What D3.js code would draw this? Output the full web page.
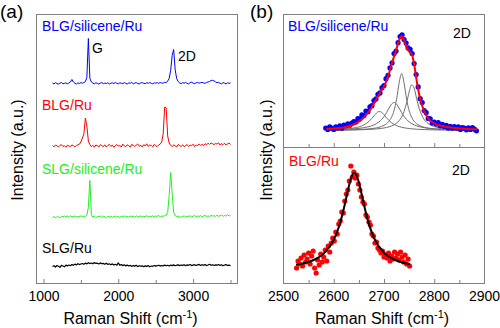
<!DOCTYPE html>
<html><head><meta charset="utf-8">
<script src="https://cdn.jsdelivr.net/npm/d3@7"></script>
<style>
body{margin:0;background:#fff}
svg{display:block}
text{font-family:Arial,"Liberation Sans",sans-serif}
</style>
</head><body>
<svg id="c" width="500" height="328"></svg>
<script>
// ---------- Panel (a) data: Raman spectra (intensity above each trace's baseline, a.u.) ----------
const specX = d3.range(1120, 3501, 20);
const specBLGsiliceneRu = [0.5,-0.5,0.8,0,-0.6,0.4,1,-0.3,0.2,0.6,
-0.4,0.5,1.5,4,1.5,0.2,-0.5,0.6,0.1,0.8,
0.3,1,2,6,45,5,1.5,0.4,-0.3,0.7,
0.2,-0.6,0.5,0.9,-0.2,0.4,0,0.8,-0.5,0.3,
0.6,-0.1,1,0.2,-0.4,0.7,0.3,-0.2,0.9,0.1,
-0.5,0.6,0.2,1.1,-0.3,0.4,0.8,0,-0.4,0.5,
0.9,0.1,-0.2,0.7,0.3,1,0.2,-0.3,0.6,0.4,
0.8,0.2,1,0.5,0.3,1.2,0.8,2.5,5,13,
28,34,14,5,2,0.6,-0.2,0.8,0.3,1,
0.2,-0.4,0.9,1.3,0.4,-0.2,0.7,1.1,0.3,0.8,
1.2,0.5,0.2,1,1.5,2,3,3.2,2.6,1.6,
0.8,1.1,0.2,-0.3,0.9,0.4,-0.5,0.7,0.2,0.5];
const specBLGRu = [0.5,-0.8,1,0.2,-1,0.6,1.3,-0.5,0.3,-1.2,
0.8,0.1,-0.7,1,0.4,-0.9,0.6,1.1,1.8,4,
8,12,28,20,5,1.5,-0.8,0.7,-1.2,1,
0.2,-1,1.4,0.3,-0.6,1.2,-1.1,0.5,1.6,-0.4,
0.9,-1.3,0.4,1.5,-0.2,0.8,-1,1.9,0.1,-0.7,
1.2,0.3,-1.1,1.7,0.6,-0.5,1,2,-0.3,0.8,
-1,1.3,0.2,2.2,-0.4,1,0.5,-0.9,1.6,0.3,
-0.6,1.1,1.8,4,12,39,38,10,3,0.8,
-0.7,1.2,0.1,-1,1.5,0.4,-0.3,1.1,-0.8,0.6,
1.4,-0.5,0.9,0.2,1.8,-0.6,1,0.3,2,0.7,
1.5,0.6,2.3,1.2,2.8,1.6,3,2.2,1.4,2.6,
1.9,3.2,1,2.4,1.3,2.8,0.9,2.1,3,1.5];
const specSLGsiliceneRu = [0.3,0.8,-0.5,1,0.4,-0.3,1.2,0.6,1.5,0.9,
1.3,0.2,1.7,0.8,1,1.5,0.4,1.2,0.7,1.6,
0.9,1.3,1,2.5,10,37,3,0.5,1.4,-0.2,
1.1,0.6,1.5,0.3,1.2,0.8,-0.1,1,0.5,1.3,
0.2,0.9,1.4,0.4,1,0.1,1.2,0.7,1.6,0.5,
1.1,0.3,1.5,0.8,1.3,0.2,1.7,0.6,1.1,1.4,
0.5,1.2,0.9,1.8,0.6,1.3,1,1.6,0.8,1.5,
1.1,2,0.7,1.4,1.2,1.8,2.5,5,22,45,
24,5,2,0.8,1.6,-0.4,1.2,0.6,1.8,0.2,
1.4,0.9,1.7,0.5,1.3,2,0.7,1.5,1,1.9,
0.6,1.4,2.1,1,1.6,0.8,2.2,1.3,1.9,0.9,
2.3,1.2,1.7,2.6,1.1,2,1.4,2.8,1.5,2.2];
const specSLGRu = [0,0.8,-0.5,1,0.3,-0.8,1.2,0.5,-0.3,1.4,
0.6,1.5,0.8,1.9,1.2,2.4,1.6,2.8,1.9,2.5,
3,2.2,3.4,2.6,3.8,2.9,3.5,2.7,4,3.1,
3.3,2.5,3.6,2.8,3.1,2.2,3.4,2,2.7,1.8,
2.6,1.5,2.2,1.3,3.6,1.2,1.9,0.9,1.7,0.6,
1.4,0.5,1.1,0.2,0.9,0.4,1.2,-0.1,0.8,0.3,
0.7,-0.2,0.6,0.1,0.9,-0.3,0.5,0.2,1,0.4,
0.8,1.3,0.4,1,0.6,1.4,0.7,1.2,0.5,1.5,
0.9,1.6,0.8,1.3,1.7,0.9,1.5,1.1,1.8,0.8,
1.6,1.2,2,0.9,1.4,1.8,1,1.6,2.1,1.1,
1.7,1.3,1.9,0.9,1.5,2.2,1.2,1.8,1,1.6,
1.3,2,1.1,1.7,0.8,1.5,1.9,1,1.4,0.9];
const specNames = ["BLG/silicene/Ru", "BLG/Ru", "SLG/silicene/Ru", "SLG/Ru"];
const specSeries = [specBLGsiliceneRu, specBLGRu, specSLGsiliceneRu, specSLGRu];
const specOffsets = [199.5, 137, 65.5, 16.5];
const specColors = ["#0000ff", "#ff0000", "#22ee22", "#000000"];
const ticksA = [1000, 2000, 3000];
const minorTicksA = [1500, 2500, 3500];

// ---------- Panel (b) top: BLG/silicene/Ru 2D band ----------
const topDotX = d3.range(2584, 2885, 4);
const topDotY = [2.5,1.1,3.7,2.4,1,3.7,2.4,4.6,2.3,5.5,
4.6,6.7,5.3,7.4,9,8.4,11.8,11.7,15.6,15,
19.4,18.8,23.6,24.8,30,31.6,36.2,37.6,42.8,45,
51.8,55.2,62.6,67.6,77,79.4,87.8,94,95.6,91,
87.4,82.6,81.2,77,67,56,43.6,31.8,28,20,
17.8,12.1,11.7,7.6,8.5,6.4,7.8,4.7,6.1,4,
5.2,2.4,4.1,2.3,4,2.4,3.7,1.1,2.9,2.3,
0.7,2.6,1,2.9,1.3,-0.3];
const compX = [2585,2600,2620,2640,2660,2670,2680,2685,2690,2695,2700,2705,2710,2715,2720,2725,2730,2735,2740,2745,2750,2755,2760,2765,2770,2780,2790,2800,2820,2840,2860,2885];
const comp1 = [0.65,0.88,1.40,2.53,5.59,9.05,14.59,17.43,18.95,18.27,15.80,12.75,9.99,7.79,6.12,4.88,3.96,3.25,2.71,2.29,1.96,1.69,1.47,1.29,1.14,0.91,0.75,0.62,0.45,0.34,0.26,0.20];
const comp2 = [0.60,0.76,1.08,1.65,2.80,3.86,5.60,6.89,8.62,10.93,14,17.92,22.4,26.35,28,26.35,22.4,17.92,14,10.93,8.62,6.89,5.60,4.62,3.86,2.80,2.11,1.65,1.08,0.76,0.56,0.41];
const comp3 = [0.30,0.38,0.52,0.75,1.20,1.59,2.19,2.63,3.21,4.01,5.13,6.75,9.25,13.24,19.93,31.21,47.24,57,47.24,31.21,19.93,13.24,9.25,6.75,5.13,3.21,2.19,1.59,0.94,0.62,0.44,0.30];
const comp4 = [0.29,0.34,0.45,0.61,0.89,1.11,1.41,1.61,1.85,2.15,2.53,3.01,3.65,4.50,5.67,7.34,9.77,13.45,19.13,27.64,38.41,45.75,42.29,31.85,22.17,11.06,6.27,3.96,1.96,1.16,0.76,0.50];
const topFit = [1.5,2,3,6,13,19,27,31.5,36,40,44,50,57,66,74,82,90,94.5,90,83,79,77,66,50,36,19,11,7,4,2.5,1.8,1.2];

// ---------- Panel (b) bottom: BLG/Ru 2D band ----------
const botDotX = d3.range(2526, 2752, 3);
const botDotY = [2,9,6,12,4,15,8,11,17,6,
14,19,2,-3,10,5,16,8,13,20,
9,24,18,27,32,29,38,36,46,49,
58,57,69,76,80,89,104,93,98,92,
95,86,80,73,68,66,55,53,48,45,
36,34,27,28,22,20,17,19,13,15,
12,17,9,14,11,18,12,16,10,18,
13,8,15,6,11,4];
const botFitX = [2525,2540,2560,2580,2600,2610,2620,2625,2630,2635,2640,2645,2650,2655,2660,2670,2680,2700,2720,2740,2752];
const botFitY = [5.16,6.69,10.02,16.38,30.1,42.7,61.3,72.4,83.6,92.6,96.9,95.0,87.6,77.0,65.6,45.9,32.2,17.3,10.5,6.95,5.61];
const ticksB = [2500, 2600, 2700, 2800, 2900];
const minorTicksB = [2550, 2650, 2750, 2850];

// ---------- drawing ----------
const svg = d3.select("#c");
const gray = "#808080";

// Panel (a)
const xA = d3.scaleLinear().domain([900, 3600]).range([36, 238]);
const yA = d3.scaleLinear().domain([0, 268]).range([283, 15]);

specSeries.forEach((s, k) => {
  const line = d3.line().x((d, i) => xA(specX[i])).y(d => yA(d + specOffsets[k]));
  svg.append("path").attr("d", line(s)).attr("fill", "none")
    .attr("stroke", specColors[k]).attr("stroke-width", k === 3 ? 1.2 : 1)
    .attr("stroke-linejoin", "round");
});

const axA = svg.append("g").attr("transform", "translate(0,283)")
  .call(d3.axisBottom(xA).tickValues(ticksA).tickSize(-4).tickPadding(8).tickFormat(d3.format("d")));
axA.select(".domain").remove();
axA.selectAll("line").attr("stroke", gray);
axA.selectAll("text").attr("font-size", 14).attr("fill", "#000").attr("font-family", "Arial, Liberation Sans, sans-serif");
const axAm = svg.append("g").attr("transform", "translate(0,283)")
  .call(d3.axisBottom(xA).tickValues(minorTicksA).tickSize(-3).tickFormat(""));
axAm.select(".domain").remove();
axAm.selectAll("line").attr("stroke", gray);

svg.append("rect").attr("x", 36.5).attr("y", 14.5).attr("width", 201).attr("height", 269)
  .attr("fill", "none").attr("stroke", gray).attr("stroke-width", 1);

const labA = [
  {t: specNames[0], x: 42, y: 31, c: specColors[0]},
  {t: specNames[1], x: 42, y: 110, c: specColors[1]},
  {t: specNames[2], x: 42, y: 174, c: specColors[2]},
  {t: specNames[3], x: 42, y: 253, c: specColors[3]},
  {t: "G", x: 92, y: 53, c: "#000"},
  {t: "2D", x: 178, y: 61, c: "#000"}
];
labA.forEach(l => svg.append("text").attr("x", l.x).attr("y", l.y).attr("fill", l.c)
  .attr("font-size", 14).text(l.t));

// Panel (b)
const xB = d3.scaleLinear().domain([2500, 2900]).range([283.5, 484.5]);
const yTop = d3.scaleLinear().domain([-16.5, 116.5]).range([147, 14]);
const yBot = d3.scaleLinear().domain([-13, 123]).range([283, 147]);

const compLine = d3.line().x((d, i) => xB(compX[i])).y(d => yTop(d)).curve(d3.curveMonotoneX);
[comp1, comp2, comp3, comp4].forEach(c => {
  svg.append("path").attr("d", compLine(c)).attr("fill", "none")
    .attr("stroke", "#6e6e6e").attr("stroke-width", 1);
});
svg.append("g").selectAll("circle").data(topDotY).join("circle")
  .attr("cx", (d, i) => xB(topDotX[i])).attr("cy", d => yTop(d)).attr("r", 2.6)
  .attr("fill", "#0000ff");
svg.append("path").attr("d", compLine(topFit)).attr("fill", "none")
  .attr("stroke", "#ff0000").attr("stroke-width", 2);

svg.append("g").selectAll("circle").data(botDotY).join("circle")
  .attr("cx", (d, i) => xB(botDotX[i])).attr("cy", d => yBot(d)).attr("r", 2.6)
  .attr("fill", "#ff0000");
const botLine = d3.line().x((d, i) => xB(botFitX[i])).y(d => yBot(d)).curve(d3.curveMonotoneX);
svg.append("path").attr("d", botLine(botFitY)).attr("fill", "none")
  .attr("stroke", "#000").attr("stroke-width", 2);

// axes of (b): ticks on the divider and on the bottom edge; labels only at bottom
[147, 283].forEach(yy => {
  const g = svg.append("g").attr("transform", `translate(0,${yy})`)
    .call(d3.axisBottom(xB).tickValues(ticksB.slice(1, -1)).tickSize(-4).tickFormat(""));
  g.select(".domain").remove();
  g.selectAll("line").attr("stroke", gray);
  const gm = svg.append("g").attr("transform", `translate(0,${yy})`)
    .call(d3.axisBottom(xB).tickValues(minorTicksB).tickSize(-3).tickFormat(""));
  gm.select(".domain").remove();
  gm.selectAll("line").attr("stroke", gray);
});
ticksB.forEach(t => svg.append("text").attr("x", xB(t)).attr("y", 301)
  .attr("text-anchor", "middle").attr("font-size", 14).text(t));

svg.append("rect").attr("x", 283.5).attr("y", 14.5).attr("width", 201).attr("height", 269)
  .attr("fill", "none").attr("stroke", gray).attr("stroke-width", 1);
svg.append("line").attr("x1", 283.5).attr("x2", 484.5).attr("y1", 147.5).attr("y2", 147.5)
  .attr("stroke", gray).attr("stroke-width", 1);

const labB = [
  {t: "BLG/silicene/Ru", x: 288, y: 31, c: "#0000ff"},
  {t: "2D", x: 453, y: 38, c: "#000"},
  {t: "BLG/Ru", x: 289, y: 166, c: "#ff0000"},
  {t: "2D", x: 452, y: 175, c: "#000"}
];
labB.forEach(l => svg.append("text").attr("x", l.x).attr("y", l.y).attr("fill", l.c)
  .attr("font-size", 14).text(l.t));

// axis titles and panel letters
function xTitle(cx) {
  const t = svg.append("text").attr("x", cx).attr("y", 324).attr("text-anchor", "middle")
    .attr("font-size", 16);
  t.append("tspan").text("Raman Shift (cm");
  t.append("tspan").attr("font-size", 11).attr("dy", -6).text("-1");
  t.append("tspan").attr("dy", 6).text(")");
}
xTitle(130.5);
xTitle(382);
function yTitle(bx) {
  svg.append("text").attr("transform", `translate(${bx},150) rotate(-90)`)
    .attr("text-anchor", "middle").attr("font-size", 16).text("Intensity (a.u.)");
}
yTitle(22.5);
yTitle(271.5);
svg.append("text").attr("x", 0).attr("y", 18).attr("font-size", 19).text("(a)");
svg.append("text").attr("x", 250).attr("y", 18).attr("font-size", 19).text("(b)");
</script>
</body></html>
